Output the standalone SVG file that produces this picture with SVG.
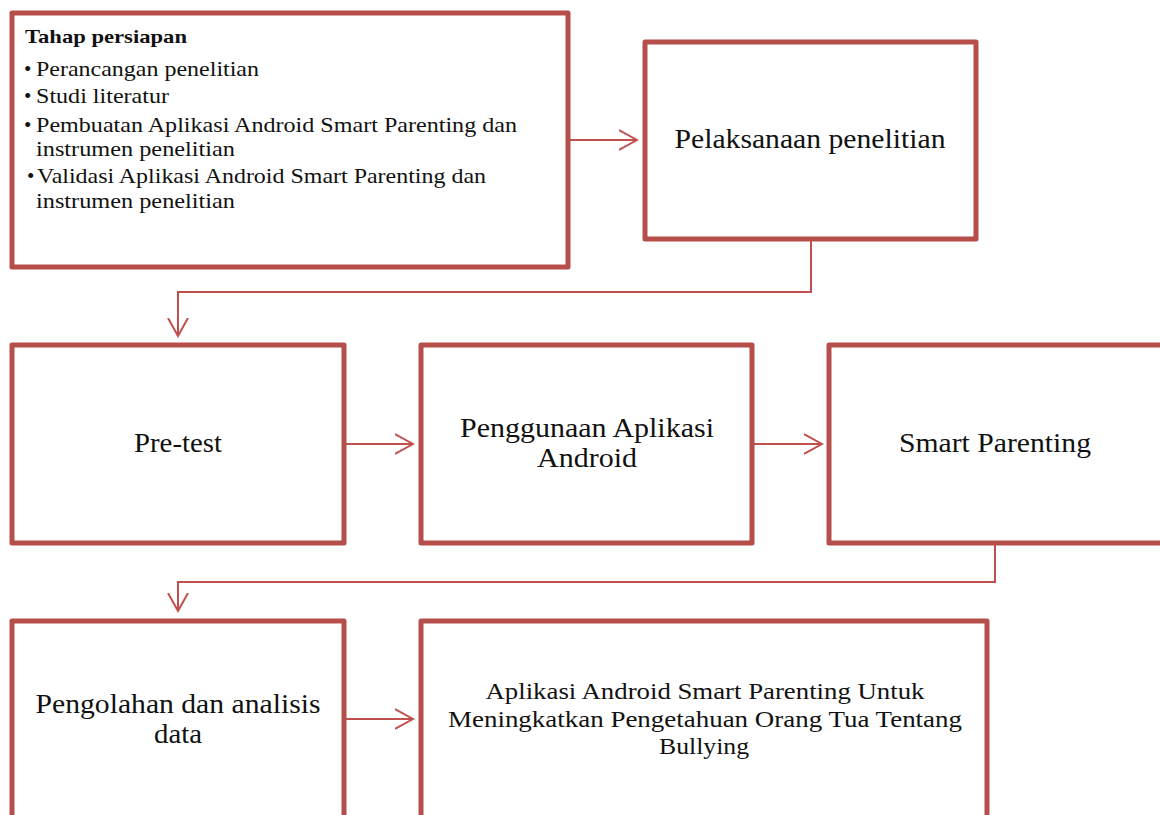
<svg xmlns="http://www.w3.org/2000/svg" width="1160" height="815" viewBox="0 0 1160 815">
<style>
.box{fill:#fff;stroke:#b64e4b;stroke-width:5;stroke-linejoin:round}
.con{fill:none;stroke:#c0504d;stroke-width:2}
text{font-family:"Liberation Serif","Times New Roman",serif;fill:#111}
.big{font-size:27px;text-anchor:middle}
.sm{font-size:21px}
.mid{font-size:24px;text-anchor:middle}
</style>
<defs>
<marker id="arr" markerWidth="20" markerHeight="22" refX="18" refY="11" orient="auto" markerUnits="userSpaceOnUse">
<path d="M0,1 L18,11 L0,21" fill="none" stroke="#c0504d" stroke-width="2"/>
</marker>
</defs>
<rect width="1160" height="815" fill="#fff"/>
<g id="connectors">
<path class="con" d="M570,140 H637" marker-end="url(#arr)"/>
<path class="con" d="M811,241 V292 H178 V336" marker-end="url(#arr)"/>
<path class="con" d="M346,444 H413" marker-end="url(#arr)"/>
<path class="con" d="M754,444 H822" marker-end="url(#arr)"/>
<path class="con" d="M995,545 V582 H178 V611" marker-end="url(#arr)"/>
<path class="con" d="M346,719 H413" marker-end="url(#arr)"/>
</g>
<g id="n1">
<rect class="box" x="12" y="13" width="556" height="254"/>
<text x="25" y="43" font-size="19" font-weight="bold" textLength="162" lengthAdjust="spacingAndGlyphs">Tahap persiapan</text>
<text class="sm" x="24" y="76">•</text><text class="sm" x="36" y="76" textLength="223" lengthAdjust="spacingAndGlyphs">Perancangan penelitian</text>
<text class="sm" x="24" y="103">•</text><text class="sm" x="36" y="103" textLength="133" lengthAdjust="spacingAndGlyphs">Studi literatur</text>
<text class="sm" x="24" y="132">•</text><text class="sm" x="36" y="132" textLength="481" lengthAdjust="spacingAndGlyphs">Pembuatan Aplikasi Android Smart Parenting dan</text>
<text class="sm" x="36" y="156" textLength="199" lengthAdjust="spacingAndGlyphs">instrumen penelitian</text>
<text class="sm" x="27" y="183">•</text><text class="sm" x="37" y="183" textLength="449" lengthAdjust="spacingAndGlyphs">Validasi Aplikasi Android Smart Parenting dan</text>
<text class="sm" x="36" y="208" textLength="199" lengthAdjust="spacingAndGlyphs">instrumen penelitian</text>
</g>
<g id="n2">
<rect class="box" x="645" y="42" width="331" height="197"/>
<text class="big" x="810" y="148" textLength="271" lengthAdjust="spacingAndGlyphs">Pelaksanaan penelitian</text>
</g>
<g id="n3">
<rect class="box" x="12" y="345" width="332" height="198"/>
<text class="big" x="178" y="452" textLength="88" lengthAdjust="spacingAndGlyphs">Pre-test</text>
</g>
<g id="n4">
<rect class="box" x="421" y="345" width="331" height="198"/>
<text class="big" x="587" y="437" textLength="254" lengthAdjust="spacingAndGlyphs">Penggunaan Aplikasi</text>
<text class="big" x="587" y="467" textLength="100" lengthAdjust="spacingAndGlyphs">Android</text>
</g>
<g id="n5">
<rect class="box" x="829" y="345" width="340" height="198"/>
<text class="big" x="995" y="452" textLength="192" lengthAdjust="spacingAndGlyphs">Smart Parenting</text>
</g>
<g id="n6">
<rect class="box" x="12" y="621" width="332" height="210"/>
<text class="big" x="178" y="713" textLength="285" lengthAdjust="spacingAndGlyphs">Pengolahan dan analisis</text>
<text class="big" x="178" y="743" textLength="48" lengthAdjust="spacingAndGlyphs">data</text>
</g>
<g id="n7">
<rect class="box" x="421" y="621" width="566" height="210"/>
<text class="mid" x="705" y="699" textLength="439" lengthAdjust="spacingAndGlyphs">Aplikasi Android Smart Parenting Untuk</text>
<text class="mid" x="705" y="727" textLength="514" lengthAdjust="spacingAndGlyphs">Meningkatkan Pengetahuan Orang Tua Tentang</text>
<text class="mid" x="704" y="754" textLength="90" lengthAdjust="spacingAndGlyphs">Bullying</text>
</g>
</svg>
